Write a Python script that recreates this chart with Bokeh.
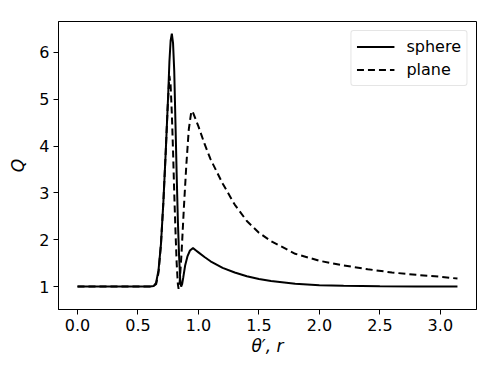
from bokeh.plotting import figure
from bokeh.models import Range1d, FixedTicker, Legend, LegendItem
from bokeh.embed import file_html
from bokeh.resources import INLINE

sphere_x = [0.0, 0.60, 0.63, 0.65, 0.67, 0.69, 0.71, 0.73, 0.75, 0.76, 0.77, 0.78,
            0.79, 0.80, 0.81, 0.82, 0.83, 0.84, 0.85, 0.857, 0.865, 0.875, 0.89,
            0.91, 0.93, 0.955, 0.98, 1.0, 1.05, 1.1, 1.2, 1.3, 1.4, 1.5, 1.6,
            1.8, 2.0, 2.2, 2.5, 2.8, 3.1416]
sphere_y = [1.0, 1.0, 1.01, 1.08, 1.35, 1.9, 2.8, 3.9, 5.1, 5.8, 6.25, 6.4,
            6.2, 5.6, 4.5, 3.4, 2.4, 1.65, 1.12, 1.0, 1.05, 1.2, 1.45,
            1.65, 1.77, 1.82, 1.77, 1.73, 1.63, 1.54, 1.40, 1.30, 1.22, 1.16, 1.12,
            1.06, 1.03, 1.015, 1.005, 1.0, 1.0]

plane_x = [0.0, 0.62, 0.65, 0.67, 0.69, 0.71, 0.73, 0.745, 0.76, 0.77, 0.78,
           0.79, 0.80, 0.81, 0.82, 0.83, 0.836, 0.845, 0.86, 0.88, 0.90, 0.92,
           0.94, 0.95, 0.97, 1.0, 1.05, 1.1, 1.2, 1.3, 1.4, 1.5, 1.6, 1.8, 2.0,
           2.2, 2.4, 2.6, 2.8, 3.0, 3.1416]
plane_y = [1.0, 1.0, 1.05, 1.3, 1.9, 2.8, 3.9, 4.8, 5.5, 5.3, 4.7,
           3.9, 3.0, 2.2, 1.5, 1.05, 0.95, 1.1, 1.7, 2.7, 3.6, 4.35,
           4.72, 4.75, 4.62, 4.42, 4.05, 3.72, 3.20, 2.75, 2.40, 2.15, 1.97, 1.70, 1.55,
           1.45, 1.37, 1.30, 1.25, 1.21, 1.17]

x_ticks = [0.0, 0.5, 1.0, 1.5, 2.0, 2.5, 3.0]
y_ticks = [1, 2, 3, 4, 5, 6]

FONT = "DejaVu Sans"

p = figure(width=490, height=366, output_backend="svg", toolbar_location=None,
           x_range=Range1d(-0.157, 3.299), y_range=Range1d(0.51, 6.66),
           min_border_left=58, min_border_right=14, min_border_top=21,
           min_border_bottom=57)

p.background_fill_color = "white"
p.border_fill_color = "white"
p.outline_line_color = "black"
p.outline_line_width = 1
p.grid.visible = False

r1 = p.line(sphere_x, sphere_y, line_color="black", line_width=2)
r2 = p.line(plane_x, plane_y, line_color="black", line_width=2, line_dash="7 4")

for ax in (p.xaxis[0], p.yaxis[0]):
    ax.axis_line_color = "black"
    ax.major_tick_line_color = "black"
    ax.major_tick_out = 5
    ax.major_tick_in = 0
    ax.minor_tick_line_color = None
    ax.major_label_text_font = FONT
    ax.major_label_text_font_size = "16px"
    ax.major_label_text_color = "black"
    ax.axis_label_text_font = FONT
    ax.axis_label_text_font_size = "17px"
    ax.axis_label_text_color = "black"
    ax.axis_label_text_font_style = "italic"

p.xaxis.ticker = FixedTicker(ticks=x_ticks)
p.yaxis.ticker = FixedTicker(ticks=y_ticks)
p.xaxis.major_label_overrides = {t: f"{t:.1f}" for t in x_ticks}
p.xaxis.axis_label = "θ′, r"
p.yaxis.axis_label = "Q"
p.xaxis.major_label_standoff = 4
p.yaxis.major_label_standoff = 4
p.xaxis.axis_label_standoff = 2
p.yaxis.axis_label_standoff = 8

legend = Legend(items=[LegendItem(label="sphere", renderers=[r1]),
                       LegendItem(label="plane", renderers=[r2])],
                location="top_right")
legend.label_text_font = FONT
legend.label_text_font_size = "16px"
legend.label_text_color = "black"
legend.border_line_color = "#cccccc"
legend.border_line_width = 1
legend.border_radius = 3
legend.margin = 9
legend.padding = 5
legend.spacing = 2
legend.glyph_width = 38
legend.glyph_height = 21
legend.label_standoff = 12
legend.background_fill_alpha = 0.8
p.add_layout(legend)

open("out.html", "w").write(file_html(p, INLINE))
